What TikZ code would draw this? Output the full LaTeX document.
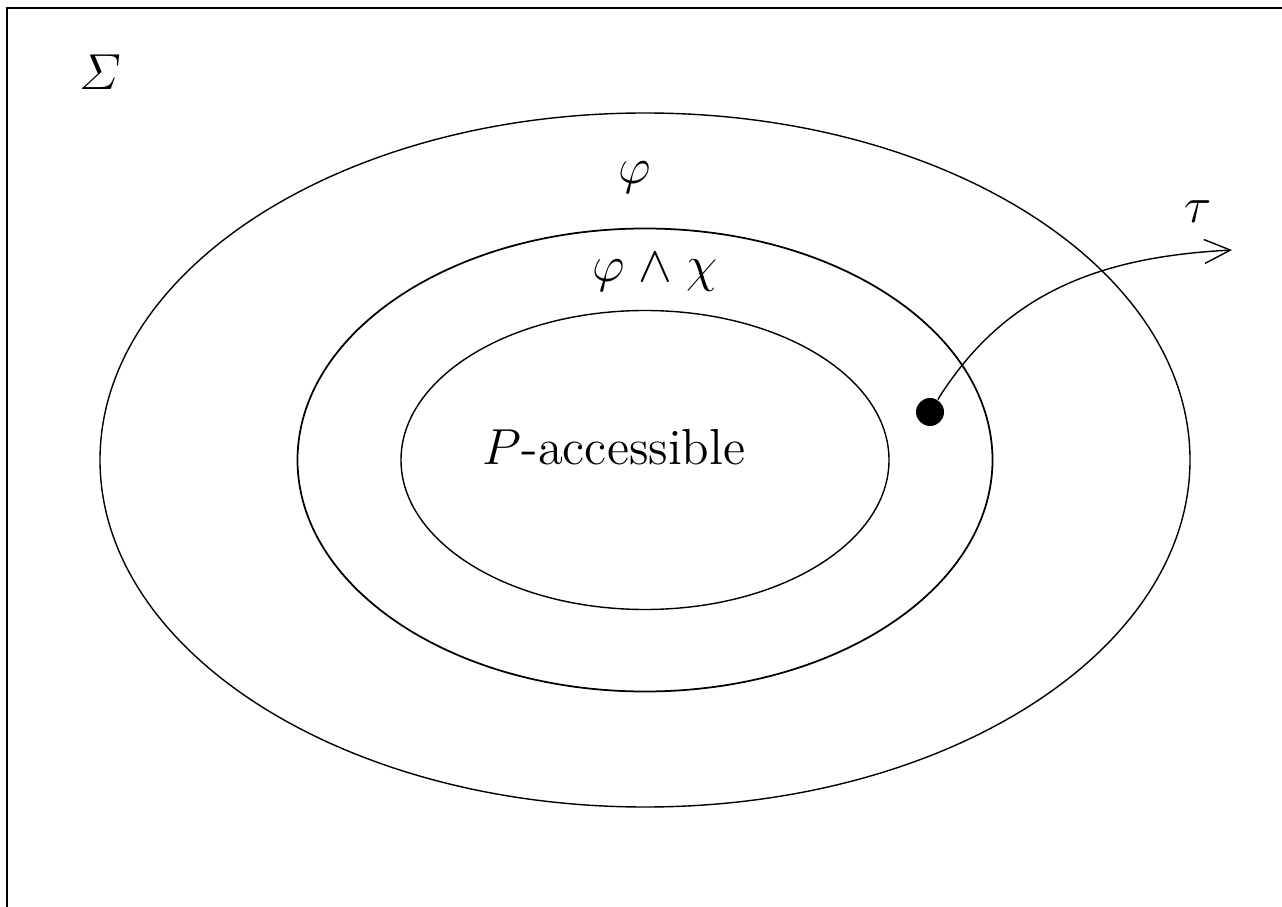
\documentclass[tikz,border=0pt]{standalone}
\usepackage{amsmath, amssymb}
\usepackage{tikz}
\usetikzlibrary{calc, positioning, arrows.meta}

\begin{document}
\begin{tikzpicture}[>={Straight Barb[length=2.6mm, width=2.4mm]}]
          % Page frame (only top and left edges visible)
          \useasboundingbox (0,0) rectangle (12.82,9.06);
          \clip (0,0) rectangle (12.82,9.06);
          \draw[semithick] (0.07,-1) rectangle (14,8.98);

          % Nested regions
          \draw[thin] (6.45,4.46) ellipse (5.45cm and 3.47cm);
          \draw[line width=0.5pt] (6.45,4.46) ellipse (3.475cm and 2.315cm);
          \draw[thin] (6.45,4.46) ellipse (2.44cm and 1.495cm);

          % Labels
          \node[font=\Large] (sigma) at (1.00,8.34) {$\varSigma$};
          \node[font=\Large] (phi) at (6.35,7.28) {$\varphi$};
          \node[font=\Large] (phichi) at (6.55,6.34) {$\varphi \mathrel{\wedge} \chi$};
          \node[font=\Large] (acc) at (6.14,4.59) {$P$-accessible};

          % Trajectory leaving the region
          \node[circle, fill=black, inner sep=0pt, minimum size=0.28cm] (state) at (9.30,4.94) {};
          \coordinate (exit) at (12.32,6.56);
          \draw[->, thin] (state) to[out=58, in=183] (exit);
          \node[font=\Large] (tau) at (11.98,6.94) {$\tau$};
        \end{tikzpicture}
\end{document}
